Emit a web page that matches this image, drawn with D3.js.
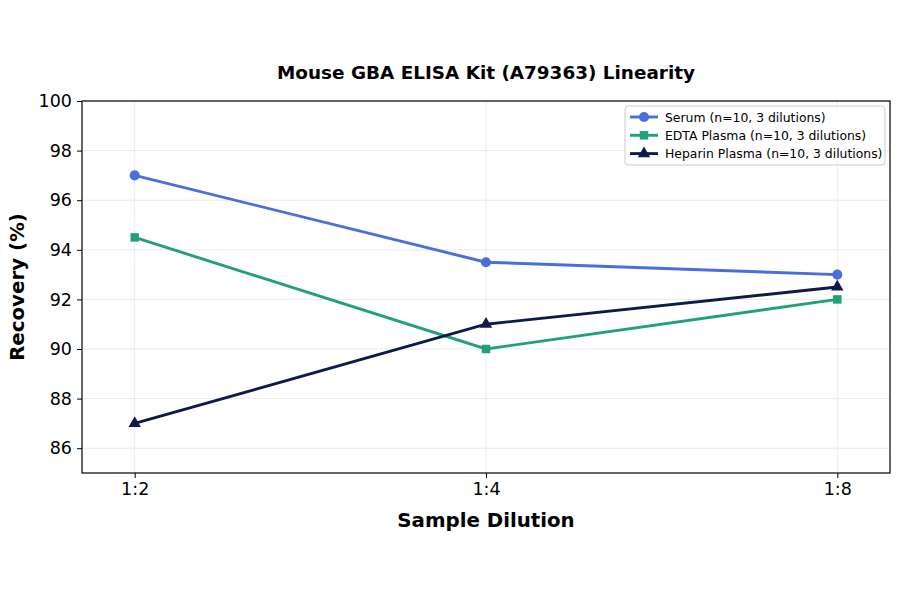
<!DOCTYPE html>
<html>
<head>
<meta charset="utf-8">
<script src="https://cdn.jsdelivr.net/npm/d3@7"></script>
<style>
  body { margin: 0; background: #fff; }
  svg { font-family: "DejaVu Sans", sans-serif; }
</style>
</head>
<body>
<div id="chart"></div>
<script>
const dilutions = ["1:2", "1:4", "1:8"];
const serum = [97, 93.5, 93];
const edtaPlasma = [94.5, 90, 92];
const heparinPlasma = [87, 91, 92.5];
const yTicks = [86, 88, 90, 92, 94, 96, 98, 100];

const series = [
  { name: "Serum (n=10, 3 dilutions)", values: serum, color: "#4a6fdc", marker: "circle" },
  { name: "EDTA Plasma (n=10, 3 dilutions)", values: edtaPlasma, color: "#22a077", marker: "square" },
  { name: "Heparin Plasma (n=10, 3 dilutions)", values: heparinPlasma, color: "#0e1a48", marker: "triangle" }
];

const W = 900, H = 594;
const margin = { top: 101, right: 10, bottom: 121, left: 82 };
const width = W - margin.left - margin.right;
const height = H - margin.top - margin.bottom;

const svg = d3.select("#chart").append("svg")
  .attr("width", W)
  .attr("height", H);

const g = svg.append("g")
  .attr("transform", `translate(${margin.left},${margin.top})`);

const x = d3.scalePoint().domain(dilutions).range([0, width]).padding(0.15);
const y = d3.scaleLinear().domain([85, 100]).range([height, 0]);

// grid
g.append("g").selectAll("line").data(yTicks).join("line")
  .attr("x1", 0).attr("x2", width)
  .attr("y1", d => y(d)).attr("y2", d => y(d))
  .attr("stroke", "#e6e6e6").attr("stroke-width", 0.8);
g.append("g").selectAll("line").data(dilutions).join("line")
  .attr("x1", d => x(d)).attr("x2", d => x(d))
  .attr("y1", 0).attr("y2", height)
  .attr("stroke", "#e6e6e6").attr("stroke-width", 0.8);

const line = d3.line()
  .x((d, i) => x(dilutions[i]))
  .y(d => y(d));

const symbols = { circle: d3.symbolCircle, square: d3.symbolSquare, triangle: d3.symbolTriangle };
const symSize = { circle: 80, square: 72, triangle: 66 };

series.forEach(s => {
  g.append("path")
    .datum(s.values)
    .attr("d", line)
    .attr("fill", "none")
    .attr("stroke", s.color)
    .attr("stroke-width", 2.9);
  g.append("g").selectAll("path").data(s.values).join("path")
    .attr("transform", (d, i) => `translate(${x(dilutions[i])},${y(d)})`)
    .attr("d", d3.symbol().type(symbols[s.marker]).size(symSize[s.marker]))
    .attr("fill", s.color);
});

// axes
const xAxis = g.append("g")
  .attr("transform", `translate(0,${height})`)
  .call(d3.axisBottom(x).tickSize(5).tickPadding(5));
const yAxis = g.append("g")
  .call(d3.axisLeft(y).tickValues(yTicks).tickSize(5).tickPadding(5));
[xAxis, yAxis].forEach(a => {
  a.select(".domain").remove();
  a.selectAll("text").attr("font-size", 17.5).attr("fill", "#000")
    .attr("font-family", "DejaVu Sans, sans-serif");
  a.selectAll("line").attr("stroke", "#000").attr("stroke-width", 1);
});

g.append("rect")
  .attr("width", width).attr("height", height)
  .attr("fill", "none").attr("stroke", "#000").attr("stroke-width", 1.2);

// labels
svg.append("text")
  .attr("x", margin.left + width / 2).attr("y", 79)
  .attr("text-anchor", "middle")
  .attr("font-size", 18.4).attr("font-weight", "bold")
  .text("Mouse GBA ELISA Kit (A79363) Linearity");

svg.append("text")
  .attr("x", margin.left + width / 2).attr("y", 527)
  .attr("text-anchor", "middle")
  .attr("font-size", 19.8).attr("font-weight", "bold")
  .text("Sample Dilution");

svg.append("text")
  .attr("transform", `translate(24,${margin.top + height / 2}) rotate(-90)`)
  .attr("text-anchor", "middle")
  .attr("font-size", 19.8).attr("font-weight", "bold")
  .text("Recovery (%)");

// legend
const legend = svg.append("g").attr("transform", "translate(625,106)");
legend.append("rect")
  .attr("width", 260).attr("height", 59).attr("rx", 3)
  .attr("fill", "#fff").attr("fill-opacity", 0.8)
  .attr("stroke", "#cccccc");
series.forEach((s, i) => {
  const row = legend.append("g").attr("transform", `translate(0,${11 + i * 18.3})`);
  row.append("line").attr("x1", 5).attr("x2", 33)
    .attr("stroke", s.color).attr("stroke-width", 2.9);
  row.append("path")
    .attr("transform", "translate(19,0)")
    .attr("d", d3.symbol().type(symbols[s.marker]).size(symSize[s.marker]))
    .attr("fill", s.color);
  row.append("text")
    .attr("x", 40).attr("y", 4.5)
    .attr("font-size", 12.4)
    .text(s.name);
});
</script>
</body>
</html>
